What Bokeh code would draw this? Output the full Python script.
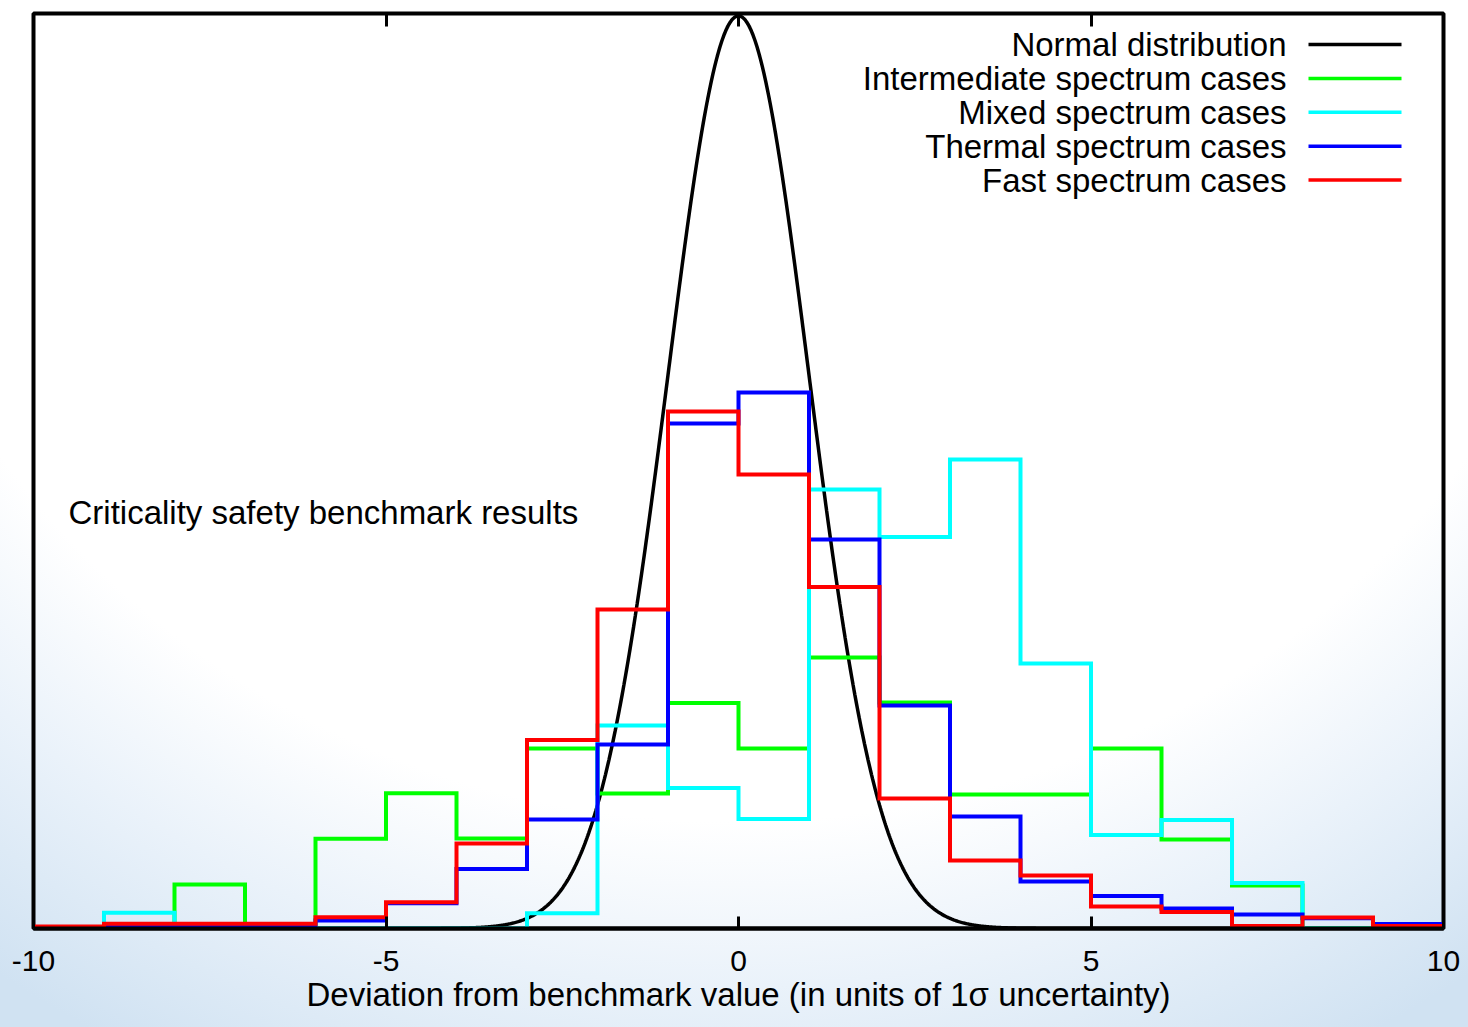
import numpy as np
from bokeh.plotting import figure
from bokeh.models import Range1d, FixedTicker, LinearAxis, Label, Arrow, CustomLabelingPolicy
from bokeh.embed import file_html
from bokeh.resources import INLINE

# ---------------- data ----------------
bin_edges = list(range(-10, 11))          # histogram bin edges, width 1
intermediate = [0.0, 0.0, 0.0192, 0.0, 0.0392, 0.0591, 0.0393, 0.0787, 0.0590, 0.0986,
                0.0787, 0.1185, 0.0988, 0.0586, 0.0586, 0.0787, 0.0389, 0.0188, 0.0, 0.0]
mixed = [0.0, 0.0069, 0.0, 0.0, 0.0, 0.0, 0.0, 0.0067, 0.0887, 0.0614,
         0.0479, 0.1919, 0.1711, 0.2050, 0.1158, 0.0409, 0.0474, 0.0199, 0.0, 0.0]
thermal = [0.0005, 0.0009, 0.0009, 0.0009, 0.0035, 0.0110, 0.0260, 0.0477, 0.0804, 0.2208,
           0.2343, 0.1701, 0.0975, 0.0490, 0.0205, 0.0142, 0.0087, 0.0061, 0.0045, 0.0020]
fast = [0.0009, 0.0021, 0.0021, 0.0021, 0.0049, 0.0115, 0.0372, 0.0824, 0.1395, 0.2260,
        0.1985, 0.1493, 0.0568, 0.0297, 0.0232, 0.0096, 0.0072, 0.0011, 0.0048, 0.0011]
series_names = ["Normal distribution", "Intermediate spectrum cases", "Mixed spectrum cases",
                "Thermal spectrum cases", "Fast spectrum cases"]
x_ticks = [-10, -5, 0, 5, 10]
x_tick_labels = ["-10", "-5", "0", "5", "10"]
normal_mu, normal_sigma = 0.0, 1.0
annotation_text = "Criticality safety benchmark results"
x_title = "Deviation from benchmark value (in units of 1\u03c3 uncertainty)"

# ---------------- styling ----------------
colors = ["#000000", "#00ff00", "#00ffff", "#0000ff", "#ff0000"]
FONT = "Liberation Sans"
W, H = 1468, 1027
LEFT, RIGHT, TOP, BOTTOM = 33, 25, 13, 99

p = figure(width=W, height=H, output_backend="svg", toolbar_location=None,
           x_range=Range1d(-10, 10), y_range=Range1d(0, 0.4),
           min_border_left=LEFT, min_border_right=RIGHT,
           min_border_top=TOP, min_border_bottom=BOTTOM)
p.border_fill_color = None
p.background_fill_color = None
p.styles = {"background": "radial-gradient(ellipse 75% 100% at 50% 0%, #ffffff 0%, #ffffff 80%, "
                          "#eaf2fa 96%, #d0e2f2 116%)"}
p.outline_line_color = "black"
p.outline_line_width = 4
p.xgrid.visible = False
p.ygrid.visible = False
p.yaxis.visible = False

ticker = FixedTicker(ticks=x_ticks)
ax = p.xaxis[0]
ax.ticker = ticker
ax.major_label_overrides = {t: s for t, s in zip(x_ticks, x_tick_labels)}
ax.axis_line_color = "black"
ax.axis_line_width = 4
ax.major_tick_in = 12
ax.major_tick_out = 0
ax.major_tick_line_width = 3
ax.minor_tick_line_color = None
ax.major_label_text_font = FONT
ax.major_label_text_font_size = "30px"
ax.major_label_text_color = "black"
ax.major_label_standoff = 22
ax.axis_label = x_title
ax.axis_label_text_font = FONT
ax.axis_label_text_font_size = "33px"
ax.axis_label_text_font_style = "normal"
ax.axis_label_text_color = "black"
ax.axis_label_standoff = 2

top_ax = LinearAxis(ticker=ticker)
top_ax.axis_line_color = None
top_ax.major_tick_in = 13
top_ax.major_tick_out = 0
top_ax.major_tick_line_width = 3
top_ax.minor_tick_line_color = None
top_ax.major_label_text_font_size = "8px"
top_ax.major_label_standoff = 0
top_ax.major_label_policy = CustomLabelingPolicy(code="""
    for (const i of indices) indices.unset(i)
    return indices
""")
p.add_layout(top_ax, "above")

# normal distribution curve
xs = np.linspace(-10, 10, 1601)
ys = np.exp(-0.5 * ((xs - normal_mu) / normal_sigma) ** 2) / (normal_sigma * np.sqrt(2 * np.pi))
p.line(xs, ys, line_color=colors[0], line_width=3.5)

# histograms (histeps)
for vals, col in zip([intermediate, mixed, thermal, fast], colors[1:]):
    p.step(x=bin_edges, y=list(vals) + [vals[-1]], mode="after",
           line_color=col, line_width=4, line_join="miter")

# legend (text to the left, sample line to the right)
legend_text_right = 1286 - LEFT
line_x0, line_x1 = 1308 - LEFT, 1401 - LEFT
row0, row_step = 44, 33.9
for i, (name, col) in enumerate(zip(series_names, colors)):
    yy = (H - BOTTOM) - (row0 + row_step * i)
    p.add_layout(Label(x=legend_text_right, y=yy, x_units="screen", y_units="screen",
                       text=name, text_align="right", text_baseline="middle",
                       text_font=FONT, text_font_size="33px", text_color="black"))
    p.add_layout(Arrow(x_start=line_x0, y_start=yy, x_end=line_x1, y_end=yy,
                       start_units="screen", end_units="screen", end=None,
                       line_color=col, line_width=3.5))

# in-plot annotation
p.add_layout(Label(x=68 - LEFT, y=(H - BOTTOM) - 512, x_units="screen", y_units="screen",
                   text=annotation_text, text_align="left", text_baseline="middle",
                   text_font=FONT, text_font_size="33px", text_color="black"))

open("out.html", "w").write(file_html(p, INLINE))
